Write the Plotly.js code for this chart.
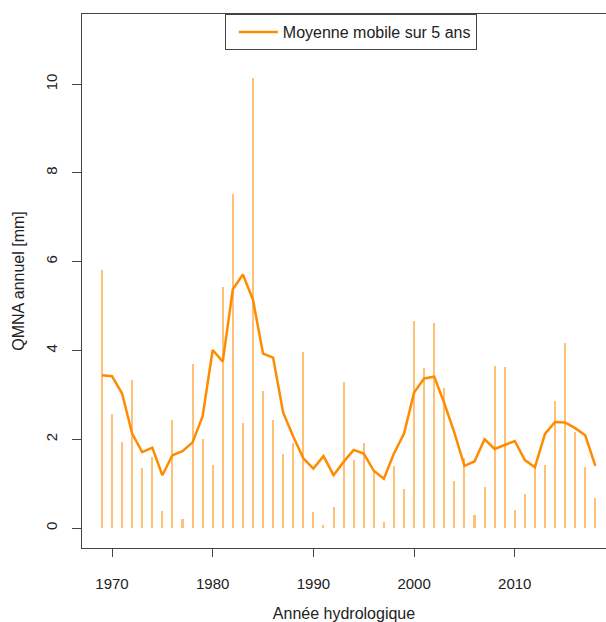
<!DOCTYPE html>
<html>
<head>
<meta charset="utf-8">
<script src="https://cdn.plot.ly/plotly-3.0.1.min.js"></script>
<style>html,body{margin:0;padding:0;background:#fff;}</style>
</head>
<body>
<div id="chart" style="width:606px;height:622px;"></div>
<script>
var years = [1969,1970,1971,1972,1973,1974,1975,1976,1977,1978,1979,1980,1981,1982,1983,1984,
  1985,1986,1987,1988,1989,1990,1991,1992,1993,1994,1995,1996,1997,1998,1999,2000,
  2001,2002,2003,2004,2005,2006,2007,2008,2009,2010,2011,2012,2013,2014,2015,2016,2017,2018];
var qmna = [5.81,2.57,1.94,3.33,1.35,1.59,0.38,2.43,0.20,3.69,2.00,1.42,5.42,7.52,2.36,10.13,
  3.09,2.43,1.66,1.91,3.96,0.35,0.06,0.47,3.30,1.53,1.91,1.31,0.14,1.40,0.87,4.66,
  3.60,4.63,3.16,1.06,1.58,0.30,0.92,3.65,3.63,0.41,0.77,1.45,1.42,2.86,4.16,2.16,1.38,0.68];
var moyenneMobile = [3.44,3.42,3.03,2.13,1.71,1.81,1.19,1.64,1.73,1.93,2.52,4.01,3.75,5.38,5.71,5.14,
  3.93,3.84,2.60,2.06,1.57,1.34,1.62,1.19,1.49,1.76,1.68,1.29,1.11,1.68,2.13,3.05,
  3.37,3.41,2.81,2.15,1.40,1.50,2.00,1.78,1.87,1.96,1.53,1.37,2.12,2.39,2.38,2.25,2.09,1.40];
var legendLabel = "Moyenne mobile sur 5 ans";
var xTitle = "Année hydrologique";
var yTitle = "QMNA annuel [mm]";

var font = "Liberation Sans, Arial, sans-serif";

var traces = [
  {
    type: "bar", x: years, y: qmna, width: 0.2,
    marker: {color: "rgba(255,150,30,0.6)", line: {width: 0}},
    showlegend: false, hoverinfo: "x+y"
  },
  {
    type: "scatter", mode: "lines", x: years, y: moyenneMobile,
    name: legendLabel,
    line: {color: "#FF8C00", width: 2.5}
  }
];

var layout = {
  width: 606, height: 622,
  margin: {l: 82, r: 0, t: 14, b: 74},
  paper_bgcolor: "#fff", plot_bgcolor: "#fff",
  font: {family: font, size: 15, color: "#222"},
  showlegend: true,
  legend: {
    x: 0.513, xanchor: "center", y: 1, yanchor: "top",
    bordercolor: "#444", borderwidth: 1, bgcolor: "#fff",
    indentation: 8, itemwidth: 39,
    tracegroupgap: 0,
    font: {family: font, size: 16, color: "#222"}
  },
  xaxis: {
    range: [1967.02, 2019.06],
    tickvals: [1970,1980,1990,2000,2010],
    ticks: "outside", ticklen: 8, tickcolor: "#444", tickwidth: 1,
    ticklabelstandoff: 14,
    showline: true, mirror: true, linecolor: "#444", linewidth: 1,
    showgrid: false, zeroline: false,
    title: {text: xTitle, standoff: 16, font: {family: font, size: 16, color: "#222"}},
    automargin: false
  },
  yaxis: {
    range: [-0.45, 11.58],
    tickvals: [0,2,4,6,8,10],
    tickangle: -90,
    ticks: "outside", ticklen: 9, tickcolor: "#444", tickwidth: 1,
    ticklabelstandoff: 9,
    showline: true, mirror: false, linecolor: "#444", linewidth: 1,
    showgrid: false, zeroline: false,
    title: {text: yTitle, standoff: 14, font: {family: font, size: 16, color: "#222"}},
    automargin: false
  },
  bargap: 0
};

Plotly.newPlot("chart", traces, layout, {displayModeBar: false, staticPlot: true});
</script>
</body>
</html>
